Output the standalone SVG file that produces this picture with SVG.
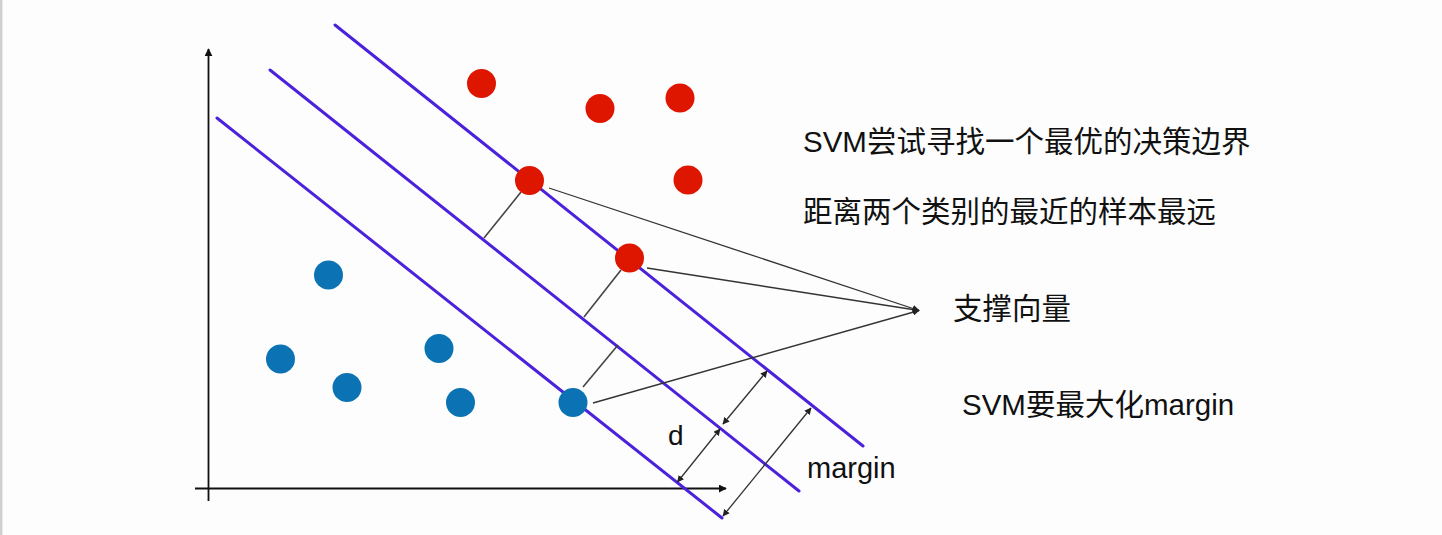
<svg xmlns="http://www.w3.org/2000/svg" width="1442" height="535" viewBox="0 0 1442 535">
<style>
.txt{font-family:"Liberation Sans","Noto Sans CJK SC",sans-serif;fill:#111;}
.hyper{stroke:#4b22dc;stroke-width:3;fill:none;stroke-linecap:round;}
.axis{stroke:#111;stroke-width:1.8;fill:none;}
.thin{stroke:#333;stroke-width:1.3;fill:none;}
.perp{stroke:#444;stroke-width:1.6;fill:none;}
.red{fill:#de1600;}
.blue{fill:#0b73b3;}
</style>
<defs>
<marker id="ah" viewBox="0 0 10 10" refX="9" refY="5" markerWidth="7" markerHeight="7" markerUnits="userSpaceOnUse" orient="auto-start-reverse">
<path d="M0,0 L10,5 L0,10 z" fill="#222"/>
</marker>
<marker id="axh" viewBox="0 0 10 10" refX="9" refY="5" markerWidth="8" markerHeight="8" markerUnits="userSpaceOnUse" orient="auto">
<path d="M0,0 L10,5 L0,10 z" fill="#111"/>
</marker>
</defs>
<rect x="0" y="0" width="1442" height="535" fill="#fdfdfd"/>
<rect x="0" y="0" width="2" height="535" fill="#cfcfcf"/>
<rect x="2" y="0" width="1" height="535" fill="#ebebeb"/>

<g id="axes">
<line class="axis" x1="208.5" y1="501" x2="208.5" y2="49" marker-end="url(#axh)"/>
<line class="axis" x1="195" y1="488.5" x2="726" y2="488.5" marker-end="url(#axh)"/>
</g>

<g id="hyperplanes">
<line class="hyper" x1="335" y1="25" x2="863" y2="446"/>
<line class="hyper" x1="270" y1="70" x2="799" y2="491"/>
<line class="hyper" x1="217" y1="118" x2="722" y2="518"/>
</g>

<g id="connectors">
<line class="perp" x1="521" y1="192" x2="484" y2="238"/>
<line class="perp" x1="621" y1="270" x2="584" y2="317"/>
<line class="perp" x1="583" y1="387" x2="618" y2="345"/>
<line class="thin" x1="549" y1="188" x2="919" y2="310.5" marker-end="url(#ah)"/>
<line class="thin" x1="647" y1="268" x2="919" y2="310.5" marker-end="url(#ah)"/>
<line class="thin" x1="593" y1="403" x2="919" y2="310.5" marker-end="url(#ah)"/>
<line class="thin" x1="677.5" y1="482" x2="720" y2="429" marker-start="url(#ah)" marker-end="url(#ah)"/>
<line class="thin" x1="723" y1="424" x2="767" y2="371" marker-start="url(#ah)" marker-end="url(#ah)"/>
<line class="thin" x1="723" y1="516" x2="811" y2="408" marker-start="url(#ah)" marker-end="url(#ah)"/>
</g>

<g id="red-points">
<circle class="red" cx="481.5" cy="83.5" r="14.5"/>
<circle class="red" cx="600" cy="108.5" r="14.5"/>
<circle class="red" cx="680" cy="98" r="14.5"/>
<circle class="red" cx="688" cy="180" r="14.5"/>
<circle class="red" cx="529.5" cy="180.5" r="14.5"/>
<circle class="red" cx="629.5" cy="258" r="14.5"/>
</g>

<g id="blue-points">
<circle class="blue" cx="328.5" cy="275" r="14.5"/>
<circle class="blue" cx="280.5" cy="359" r="14.5"/>
<circle class="blue" cx="347" cy="387.5" r="14.5"/>
<circle class="blue" cx="439" cy="348.5" r="14.5"/>
<circle class="blue" cx="460.5" cy="402.5" r="14.5"/>
<circle class="blue" cx="573" cy="402.5" r="14.5"/>
</g>

<g id="labels">
<text class="txt" x="803" y="152" font-size="29.5">SVM尝试寻找一个最优的决策边界</text>
<text class="txt" x="803" y="222" font-size="29.5">距离两个类别的最近的样本最远</text>
<text class="txt" x="953" y="319" font-size="29.5">支撑向量</text>
<text class="txt" x="962" y="415" font-size="29.5">SVM要最大化margin</text>
<text class="txt" x="668" y="445" font-size="28">d</text>
<text class="txt" x="807" y="478" font-size="29">margin</text>
</g>
</svg>
